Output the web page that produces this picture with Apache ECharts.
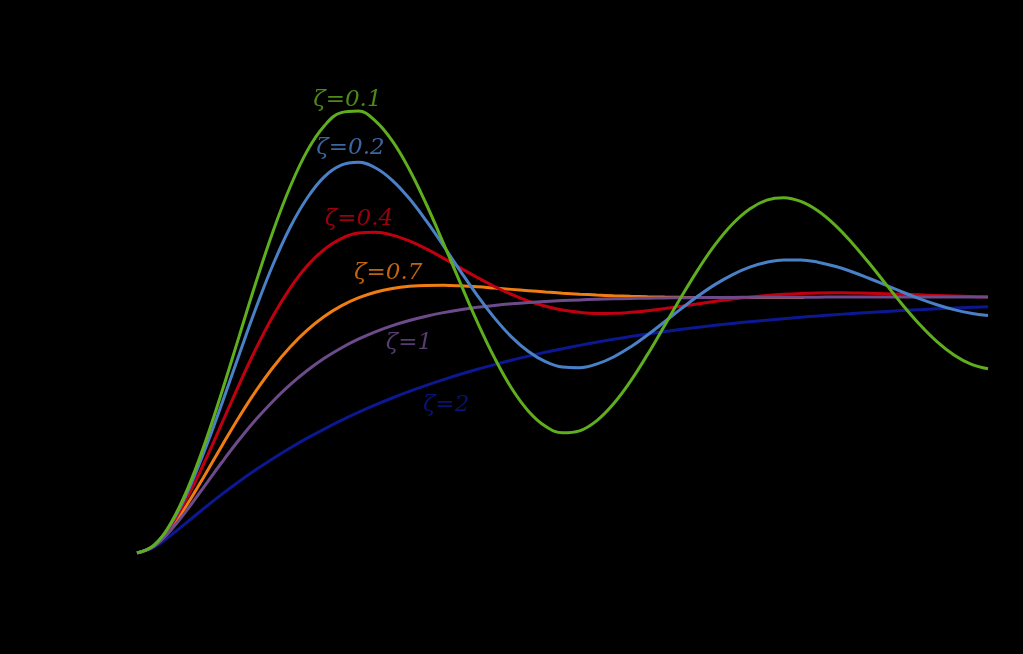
<!DOCTYPE html>
<html>
<head>
<meta charset="utf-8">
<script src="https://cdn.jsdelivr.net/npm/echarts@6/dist/echarts.min.js"></script>
<style>
html,body{margin:0;padding:0;background:#000;}
#c{width:1023px;height:654px;}
</style>
</head>
<body>
<div id="c"></div>
<script>
// time samples (ωn·t), step 0.25 from 0 to 12.5
const times = [0,0.25,0.5,0.75,1,1.25,1.5,1.75,2,2.25,2.5,2.75,3,3.25,3.5,3.75,4,4.25,4.5,4.75,5,5.25,5.5,5.75,6,6.25,6.5,6.75,7,7.25,7.5,7.75,8,8.25,8.5,8.75,9,9.25,9.5,9.75,10,10.25,10.5,10.75,11,11.25,11.5,11.75,12,12.25,12.5];
const timesZ07 = [0,0.25,0.5,0.75,1,1.25,1.5,1.75,2,2.25,2.5,2.75,3,3.25,3.5,3.75,4,4.25,4.5,4.75,5,5.25,5.5,5.75,6,6.25,6.5,6.75,7,7.25,7.5,7.75,8,8.25,8.5,8.75,9,9.25,9.5,9.8];

const z01 = [0,0.0306,0.1184,0.2556,0.4310,0.6324,0.8464,1.0594,1.2582,1.4306,1.5708,1.6680,1.7201,1.7262,1.6879,1.6096,1.4983,1.3623,1.2106,1.0539,0.9014,0.7630,0.6444,0.5539,0.4949,0.4693,0.4772,0.5163,0.5830,0.6716,0.7758,0.8887,1.0027,1.1110,1.2072,1.2862,1.3440,1.3783,1.3876,1.3732,1.3368,1.2818,1.2121,1.1335,1.0503,0.9681,0.8918,0.8257,0.7737,0.7378,0.7196];
const z02 = [0,0.0300,0.1147,0.2436,0.4051,0.5862,0.7747,0.9588,1.1278,1.2726,1.3868,1.4694,1.5151,1.5261,1.5049,1.4559,1.3845,1.2970,1.2007,1.1013,1.0055,0.9185,0.8444,0.7869,0.7473,0.7264,0.7238,0.7377,0.7657,0.8050,0.8521,0.9035,0.9556,1.0055,1.0503,1.0877,1.1166,1.1357,1.1450,1.1448,1.1361,1.1201,1.0986,1.0733,1.0460,1.0186,0.9928,0.9699,0.9507,0.9365,0.9273];
const z04 = [0,0.0291,0.1077,0.2223,0.3599,0.5087,0.6581,0.7998,0.9271,1.0348,1.1217,1.1861,1.2282,1.2496,1.2532,1.2418,1.2189,1.1878,1.1518,1.1136,1.0761,1.0411,1.0100,0.9841,0.9640,0.9491,0.9400,0.9360,0.9362,0.9401,0.9465,0.9549,0.9642,0.9739,0.9833,0.9920,0.9995,1.0057,1.0104,1.0137,1.0156,1.0164,1.0160,1.0148,1.0130,1.0108,1.0084,1.0059,1.0036,1.0015,0.9996];
const z07 = [0,0.0277,0.0983,0.1952,0.3060,0.4202,0.5313,0.6339,0.7257,0.8047,0.8705,0.9238,0.9652,0.9964,1.0185,1.0331,1.0417,1.0454,1.0458,1.0436,1.0398,1.0349,1.0298,1.0246,1.0196,1.0151,1.0111,1.0077,1.0049,1.0027,1.0010,0.9997,0.9988,0.9983,0.9980,0.9979,0.9979,0.9981,0.9983,0.9985];
const z1  = [0,0.0265,0.0902,0.1733,0.2642,0.3554,0.4422,0.5221,0.5940,0.6575,0.7127,0.7603,0.8009,0.8352,0.8641,0.8883,0.9084,0.9251,0.9389,0.9503,0.9596,0.9672,0.9734,0.9785,0.9826,0.9860,0.9887,0.9909,0.9927,0.9941,0.9953,0.9962,0.9970,0.9976,0.9981,0.9985,0.9988,0.9990,0.9992,0.9994,0.9995,0.9996,0.9997,0.9997,0.9998,0.9998,0.9999,0.9999,0.9999,0.9999,1.0000];
const z2  = [0,0.0228,0.0697,0.1234,0.1777,0.2299,0.2794,0.3260,0.3695,0.4103,0.4486,0.4842,0.5177,0.5489,0.5782,0.6055,0.6311,0.6549,0.6773,0.6982,0.7177,0.7360,0.7532,0.7691,0.7841,0.7981,0.8111,0.8234,0.8348,0.8455,0.8555,0.8649,0.8736,0.8818,0.8895,0.8967,0.9033,0.9096,0.9154,0.9209,0.9260,0.9308,0.9353,0.9395,0.9434,0.9471,0.9505,0.9537,0.9567,0.9595,0.9622];

// labels and their anchor positions (data units)
const labelTexts = ['ζ=0.1','ζ=0.2','ζ=0.4','ζ=0.7','ζ=1','ζ=2'];
const labelT = [3.09,3.135,3.26,3.69,3.995,4.54];
const labelY = [1.770,1.582,1.305,1.094,0.820,0.578];

const colors = ['#5fae1e','#4a80c6','#c00010','#f07d12','#6d4b8b','#0b1891'];

function pairs(ts, vs){ return ts.map((t,i)=>[t, vs[i]]); }

const seriesDefs = [
  {name:'ζ=2',   data:pairs(times,z2),     color:colors[5]},
  {name:'ζ=0.7', data:pairs(timesZ07,z07), color:colors[3]},
  {name:'ζ=0.4', data:pairs(times,z04),    color:colors[2]},
  {name:'ζ=1',   data:pairs(times,z1),     color:colors[4]},
  {name:'ζ=0.2', data:pairs(times,z02),    color:colors[1]},
  {name:'ζ=0.1', data:pairs(times,z01),    color:colors[0]}
];

const series = seriesDefs.map(s => ({
  type:'line', name:s.name, data:s.data, smooth:0.4, showSymbol:false, symbol:'none',
  lineStyle:{color:s.color, width:3}, itemStyle:{color:s.color}, animation:false, z:2
}));

series.push({
  type:'scatter', symbolSize:0, animation:false, z:5, silent:true,
  data: labelTexts.map((txt,i)=>({
    value:[labelT[i], labelY[i]], name:txt,
    label:{show:true, position:'inside', formatter:txt, color:colors[i],
      fontFamily:'DejaVu Serif', fontStyle:'italic', fontSize:23}
  }))
});

const chart = echarts.init(document.getElementById('c'), null, {renderer:'canvas'});
chart.setOption({
  backgroundColor:'#000',
  animation:false,
  grid:{left:137, right:35, top:41, bottom:101},
  xAxis:{type:'value', min:0, max:12.5, show:false},
  yAxis:{type:'value', min:0, max:2, show:false},
  series: series
});
</script>
</body>
</html>
